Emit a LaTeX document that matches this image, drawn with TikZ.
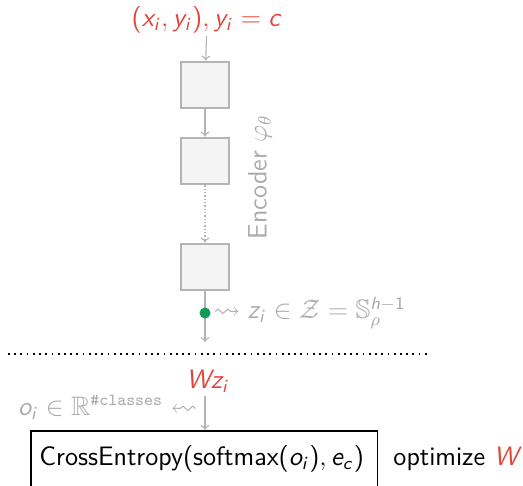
\documentclass[tikz,border=0pt]{standalone}
\usepackage{amssymb}
\usetikzlibrary{arrows.meta}
% sans-serif math: slanted sans letters, upright sans digits and operators
\DeclareSymbolFont{sfit}{OT1}{cmss}{m}{sl}
\SetSymbolFont{operators}{normal}{OT1}{cmss}{m}{n}
\makeatletter
\@tfor\ch:=abcdefghijklmnopqrstuvwxyzABCDEFGHIJKLMNOPQRSTUVWXYZ\do{%
  \edef\tmp{\noexpand\DeclareMathSymbol{\ch}{\noexpand\mathalpha}{sfit}{`\ch}}\tmp}
\makeatother
\definecolor{linegray}{HTML}{B4B4B4}
\definecolor{textgray}{HTML}{ABABAB}
\definecolor{boxfill}{HTML}{F4F4F4}
\definecolor{accent}{HTML}{E0443A}
\definecolor{dotgreen}{HTML}{139A55}
\newcommand{\squigleft}{\mathrel{\reflectbox{$\leadsto$}}}
\newcommand{\nclasses}{\mbox{\fontsize{7.6}{9}\selectfont\ttfamily\#classes}}
\tikzset{
  layerbox/.style={draw=linegray, line width=1pt, fill=boxfill,
    minimum width=21.6pt, minimum height=21pt, inner sep=0pt},
  flow/.style={draw=linegray, line width=0.5pt, -{To[length=2.2pt,width=4pt]}},
  graytext/.style={text=textgray, inner sep=1pt},
  redtext/.style={text=accent, inner sep=1pt},
}
\begin{document}
\begin{tikzpicture}[x=0.45pt, y=-0.45pt, font=\sffamily\fontsize{12}{14}\selectfont]
\useasboundingbox (0,0) rectangle (523,486);

% input pair
\node[redtext] (input) at (207,20) {$(x_i, y_i), y_i = c$};

% encoder layers
\node[layerbox] (l1) at (205,85) {};
\node[layerbox] (l2) at (205,161) {};
\node[layerbox] (l3) at (205,267) {};
\node[graytext, rotate=90] (enc) at (260,177) {Encoder $\varphi_\theta$};

\draw[flow] (input) -- (l1);
\draw[flow] (l1) -- (l2);
\draw[flow, densely dotted] (l2) -- (l3);

% embedding
\coordinate (emb) at (205,313);
\coordinate (embout) at (205,342);
\draw[draw=linegray, line width=0.5pt] (l3) -- (emb);
\draw[flow] (emb) -- (embout);
\fill[dotgreen] (emb) circle (5.5);
\node[graytext, anchor=west] (zlabel) at (211,313) {$\leadsto z_i \in \mathcal{Z} = \mathbb{S}_\rho^{h-1}$};

% separator
\coordinate (sepL) at (8,354);
\coordinate (sepR) at (428,354);
\draw[draw=black, line width=0.8pt, dotted] (sepL) -- (sepR);

% linear head
\node[redtext] (wz) at (208,381) {$W z_i$};
\coordinate (headtop) at (205,396);
\node[graytext, anchor=east] (olabel) at (200,407) {$o_i \in \mathbb{R}^{\nclasses} \squigleft$};

% loss
\node[draw=black, line width=0.8pt, anchor=north west, minimum width=156pt,
  minimum height=40pt] (loss) at (30,430) {};
\node[anchor=west, inner sep=0pt] (losstext) at (39,459) {CrossEntropy$($softmax$(o_i), e_c)$};
\node[anchor=west, inner sep=0pt] (opt) at (393,459) {optimize \textcolor{accent}{$W$}};
\draw[flow] (headtop) -- (headtop |- loss.north);
\end{tikzpicture}
\end{document}
